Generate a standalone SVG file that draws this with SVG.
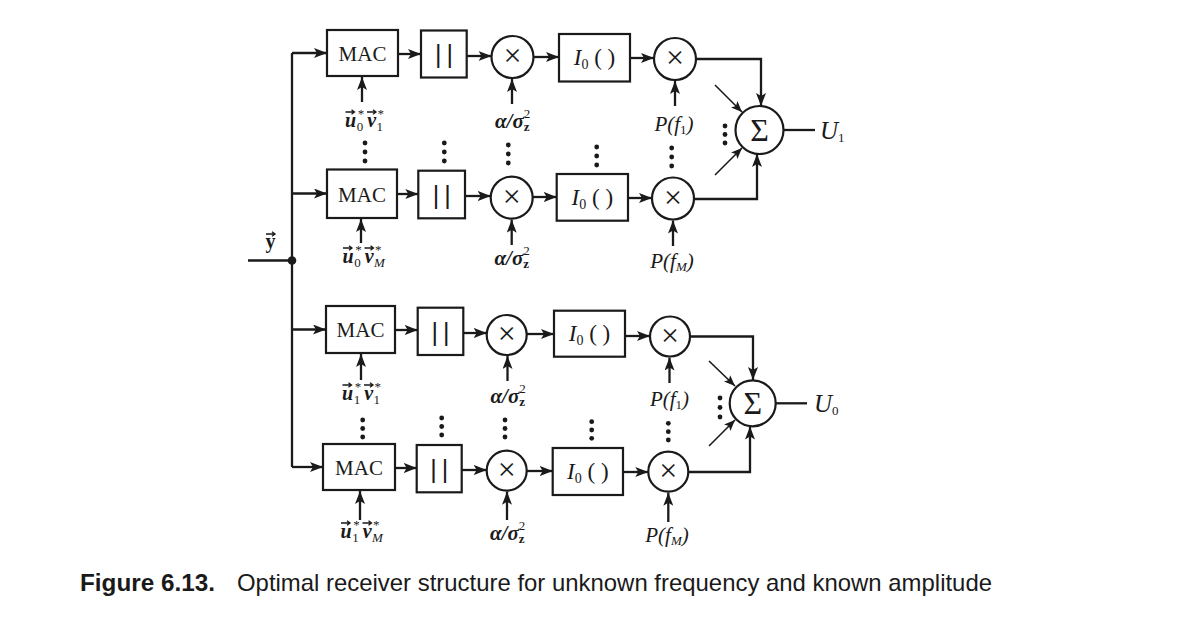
<svg xmlns="http://www.w3.org/2000/svg" width="1178" height="630" viewBox="0 0 1178 630">
<defs>
<style>
.box{fill:#fff;stroke:#1a1a1a;stroke-width:2.2}
.cir{fill:#fff;stroke:#1a1a1a;stroke-width:2.2}
.ln{fill:none;stroke:#1a1a1a;stroke-width:2.3}
.thin{fill:none;stroke:#1a1a1a;stroke-width:1.6}
.vec{fill:none;stroke:#1a1a1a;stroke-width:1.3}
.dot{fill:#1a1a1a}
text{fill:#1a1a1a;font-family:"Liberation Serif","Times New Roman",serif}
.mac{font-size:21px;text-anchor:middle}
.abs{font-size:25px;font-family:"Liberation Sans",Arial,sans-serif;letter-spacing:5px;text-anchor:middle}
.io{font-size:23px;text-anchor:middle}
.x{font-size:32px;text-anchor:middle}
.sig{font-size:32px;text-anchor:middle}
.bi{font-size:20px;font-style:italic;font-weight:bold}
.sm{font-size:13px;font-style:normal;font-weight:normal}
.smi{font-size:13px;font-style:italic;font-weight:normal}
.smb{font-size:13px;font-style:normal;font-weight:bold}
.al{font-size:21px;font-style:italic;font-weight:bold}
.p{font-size:21px;font-style:italic;text-anchor:middle}
.u{font-size:25px;font-style:italic}
.cap{font-family:"Liberation Sans",Arial,sans-serif;font-size:24px}
</style>
<marker id="ah" markerUnits="userSpaceOnUse" markerWidth="14" markerHeight="11" refX="13" refY="5" orient="auto">
<path d="M0,0 L13,5 L0,10 L3,5 z" fill="#1a1a1a"/>
</marker>
<marker id="ahs" markerUnits="userSpaceOnUse" markerWidth="12" markerHeight="10" refX="11" refY="4.5" orient="auto">
<path d="M0,0 L11,4.5 L0,9 L2.5,4.5 z" fill="#1a1a1a"/>
</marker>
<path id="va" d="M0,0 H8.5 M6,-2.2 L9,0 L6,2.2"/>
</defs>

<g id="connectors">
<path class="ln" d="M248,260.5 H292"/>
<path class="ln" d="M292,53 V467"/>
<circle class="dot" cx="292" cy="260.5" r="4.3"/>
<path class="ln" marker-end="url(#ah)" d="M292,53 H327"/>
<path class="ln" marker-end="url(#ah)" d="M292,193.5 H327"/>
<path class="ln" marker-end="url(#ah)" d="M292,329.5 H326"/>
<path class="ln" marker-end="url(#ah)" d="M292,467 H323"/>
<path class="ln" marker-end="url(#ah)" d="M398,54 H421"/>
<path class="ln" marker-end="url(#ah)" d="M466.7,56 H491.5"/>
<path class="ln" marker-end="url(#ah)" d="M533.5,57 H559"/>
<path class="ln" marker-end="url(#ah)" d="M630,58 H654"/>
<path class="ln" marker-end="url(#ah)" d="M696,59 H761 V106"/>
<path class="ln" marker-end="url(#ah)" d="M397,194 H418.3"/>
<path class="ln" marker-end="url(#ah)" d="M465,196 H490.7"/>
<path class="ln" marker-end="url(#ah)" d="M532.7,197 H556.7"/>
<path class="ln" marker-end="url(#ah)" d="M628,198 H652"/>
<path class="ln" marker-end="url(#ah)" d="M694,199 H757 V154"/>
<path class="ln" marker-end="url(#ah)" d="M395,330 H417.7"/>
<path class="ln" marker-end="url(#ah)" d="M463.3,333 H486.7"/>
<path class="ln" marker-end="url(#ah)" d="M526.7,334 H554"/>
<path class="ln" marker-end="url(#ah)" d="M625,336 H650"/>
<path class="ln" marker-end="url(#ah)" d="M690,336.5 H753 V380"/>
<path class="ln" marker-end="url(#ah)" d="M395,468 H416.7"/>
<path class="ln" marker-end="url(#ah)" d="M461.7,470 H486.7"/>
<path class="ln" marker-end="url(#ah)" d="M526.7,471 H552.7"/>
<path class="ln" marker-end="url(#ah)" d="M623,472 H648.3"/>
<path class="ln" marker-end="url(#ah)" d="M688.3,472 H750 V426.5"/>
<path class="ln" marker-end="url(#ah)" d="M362,102 V77"/>
<path class="ln" marker-end="url(#ah)" d="M512,104 V79"/>
<path class="ln" marker-end="url(#ah)" d="M675,106 V81"/>
<path class="ln" marker-end="url(#ah)" d="M361,243 V219"/>
<path class="ln" marker-end="url(#ah)" d="M511.7,245 V219.7"/>
<path class="ln" marker-end="url(#ah)" d="M673,246 V220.5"/>
<path class="ln" marker-end="url(#ah)" d="M361,380 V354"/>
<path class="ln" marker-end="url(#ah)" d="M507.5,381 V356"/>
<path class="ln" marker-end="url(#ah)" d="M669.5,383 V357.5"/>
<path class="ln" marker-end="url(#ah)" d="M360,520 V491"/>
<path class="ln" marker-end="url(#ah)" d="M507,520 V491.7"/>
<path class="ln" marker-end="url(#ah)" d="M668.3,522 V492.7"/>
<path class="thin" marker-end="url(#ahs)" d="M715,85 L742,112"/>
<path class="thin" marker-end="url(#ahs)" d="M715,175 L742,148"/>
<path class="thin" marker-end="url(#ahs)" d="M709,361 L735,386"/>
<path class="thin" marker-end="url(#ahs)" d="M709,446 L735,420"/>
<path class="ln" d="M783.5,130 H815"/>
<path class="ln" d="M775.7,403.3 H807"/>
</g>

<g id="mac1"><rect class="box" x="327" y="30" width="71" height="46"/><text class="mac" x="362.5" y="60.5">MAC</text></g>
<g id="abs1"><rect class="box" x="421" y="30.5" width="45.7" height="47"/><text class="abs" x="446.5" y="62.5">||</text></g>
<g id="mul1a"><circle class="cir" cx="512.5" cy="57" r="21"/><text class="x" x="512.5" y="66">×</text></g>
<g id="io1"><rect class="box" x="559" y="34" width="71" height="47.5"/><text class="io" x="594.5" y="65"><tspan font-style="italic">I</tspan><tspan dy="4" font-size="14">0</tspan><tspan dy="-4"> ( )</tspan></text></g>
<g id="mul1b"><circle class="cir" cx="675" cy="59" r="21"/><text class="x" x="675" y="68">×</text></g>

<g id="mac2"><rect class="box" x="327" y="169.5" width="70" height="48.5"/><text class="mac" x="362" y="201.5">MAC</text></g>
<g id="abs2"><rect class="box" x="418.3" y="170.7" width="46.7" height="47.6"/><text class="abs" x="444.2" y="203.5">||</text></g>
<g id="mul2a"><circle class="cir" cx="511.7" cy="197.7" r="21"/><text class="x" x="511.7" y="206.7">×</text></g>
<g id="io2"><rect class="box" x="556.7" y="174" width="71.3" height="46.7"/><text class="io" x="592.3" y="204.5"><tspan font-style="italic">I</tspan><tspan dy="4" font-size="14">0</tspan><tspan dy="-4"> ( )</tspan></text></g>
<g id="mul2b"><circle class="cir" cx="673" cy="198.5" r="21"/><text class="x" x="673" y="207.5">×</text></g>

<g id="mac3"><rect class="box" x="326" y="306" width="69" height="47"/><text class="mac" x="360.5" y="337">MAC</text></g>
<g id="abs3"><rect class="box" x="417.7" y="307.7" width="45.6" height="47.3"/><text class="abs" x="443" y="340.5">||</text></g>
<g id="mul3a"><circle class="cir" cx="506.7" cy="335" r="20"/><text class="x" x="506.7" y="344">×</text></g>
<g id="io3"><rect class="box" x="554" y="310.7" width="71" height="46"/><text class="io" x="589.5" y="341"><tspan font-style="italic">I</tspan><tspan dy="4" font-size="14">0</tspan><tspan dy="-4"> ( )</tspan></text></g>
<g id="mul3b"><circle class="cir" cx="670" cy="336.5" r="20"/><text class="x" x="670" y="345.5">×</text></g>

<g id="mac4"><rect class="box" x="323" y="444" width="72" height="46"/><text class="mac" x="359" y="474.5">MAC</text></g>
<g id="abs4"><rect class="box" x="416.7" y="445" width="45" height="47.3"/><text class="abs" x="441.8" y="477.5">||</text></g>
<g id="mul4a"><circle class="cir" cx="506.7" cy="470.7" r="20"/><text class="x" x="506.7" y="479.7">×</text></g>
<g id="io4"><rect class="box" x="552.7" y="448" width="70.3" height="47"/><text class="io" x="587.8" y="478.5"><tspan font-style="italic">I</tspan><tspan dy="4" font-size="14">0</tspan><tspan dy="-4"> ( )</tspan></text></g>
<g id="mul4b"><circle class="cir" cx="668.3" cy="471.7" r="20"/><text class="x" x="668.3" y="480.7">×</text></g>

<g id="sum1"><circle class="cir" cx="759.5" cy="130" r="24"/><text class="sig" x="759.5" y="141">Σ</text></g>
<g id="sum0"><circle class="cir" cx="752.7" cy="403.3" r="23"/><text class="sig" x="752.7" y="414.3">Σ</text></g>

<g id="out1"><text class="u" x="820" y="139">U<tspan class="sm" dy="3">1</tspan></text></g>
<g id="out0"><text class="u" x="814" y="412">U<tspan class="sm" dy="3">0</tspan></text></g>

<g id="input-y">
<text x="270.5" y="248" font-size="20" font-weight="bold" text-anchor="middle">y</text>
<use href="#va" class="vec" x="266" y="234"/>
</g>

<g id="lab-u0v1">
<text class="bi" x="345" y="127">u<tspan class="sm" dx="1.5" dy="-9">*</tspan><tspan class="sm" dx="-7.5" dy="13">0</tspan><tspan dx="4" dy="-4">v</tspan><tspan class="sm" dx="1.5" dy="-9">*</tspan><tspan class="sm" dx="-7.5" dy="13">1</tspan></text>
<use href="#va" class="vec" x="345.5" y="112"/><use href="#va" class="vec" x="367" y="112"/>
</g>
<g id="lab-u0vM">
<text class="bi" x="342.5" y="263">u<tspan class="sm" dx="1.5" dy="-9">*</tspan><tspan class="sm" dx="-7.5" dy="13">0</tspan><tspan dx="4" dy="-4">v</tspan><tspan class="sm" dx="1.5" dy="-9">*</tspan><tspan class="smi" dx="-7.5" dy="13">M</tspan></text>
<use href="#va" class="vec" x="343" y="248"/><use href="#va" class="vec" x="364.5" y="248"/>
</g>
<g id="lab-u1v1">
<text class="bi" x="342" y="400">u<tspan class="sm" dx="1.5" dy="-9">*</tspan><tspan class="sm" dx="-7.5" dy="13">1</tspan><tspan dx="4" dy="-4">v</tspan><tspan class="sm" dx="1.5" dy="-9">*</tspan><tspan class="sm" dx="-7.5" dy="13">1</tspan></text>
<use href="#va" class="vec" x="342.5" y="385"/><use href="#va" class="vec" x="364" y="385"/>
</g>
<g id="lab-u1vM">
<text class="bi" x="340.5" y="538">u<tspan class="sm" dx="1.5" dy="-9">*</tspan><tspan class="sm" dx="-7.5" dy="13">1</tspan><tspan dx="4" dy="-4">v</tspan><tspan class="sm" dx="1.5" dy="-9">*</tspan><tspan class="smi" dx="-7.5" dy="13">M</tspan></text>
<use href="#va" class="vec" x="341" y="523"/><use href="#va" class="vec" x="362.5" y="523"/>
</g>

<g id="lab-a1"><text class="al" x="495" y="128">α/σ<tspan class="sm" dy="-10">2</tspan><tspan class="smb" dx="-6.5" dy="13">z</tspan></text></g>
<g id="lab-a2"><text class="al" x="494.5" y="265">α/σ<tspan class="sm" dy="-10">2</tspan><tspan class="smb" dx="-6.5" dy="13">z</tspan></text></g>
<g id="lab-a3"><text class="al" x="490.5" y="403">α/σ<tspan class="sm" dy="-10">2</tspan><tspan class="smb" dx="-6.5" dy="13">z</tspan></text></g>
<g id="lab-a4"><text class="al" x="490" y="540">α/σ<tspan class="sm" dy="-10">2</tspan><tspan class="smb" dx="-6.5" dy="13">z</tspan></text></g>

<g id="lab-p1"><text class="p" x="674" y="131">P(f<tspan class="sm" dy="3">1</tspan><tspan dy="-3">)</tspan></text></g>
<g id="lab-p2"><text class="p" x="672" y="268">P(f<tspan class="smi" dy="3">M</tspan><tspan dy="-3">)</tspan></text></g>
<g id="lab-p3"><text class="p" x="669.5" y="406">P(f<tspan class="sm" dy="3">1</tspan><tspan dy="-3">)</tspan></text></g>
<g id="lab-p4"><text class="p" x="667" y="542">P(f<tspan class="smi" dy="3">M</tspan><tspan dy="-3">)</tspan></text></g>

<g id="dots">
<circle class="dot" cx="365" cy="143" r="2.4"/><circle class="dot" cx="365" cy="152" r="2.4"/><circle class="dot" cx="365" cy="161" r="2.4"/>
<circle class="dot" cx="444.3" cy="143" r="2.4"/><circle class="dot" cx="444.3" cy="152" r="2.4"/><circle class="dot" cx="444.3" cy="161" r="2.4"/>
<circle class="dot" cx="508.3" cy="145" r="2.4"/><circle class="dot" cx="508.3" cy="154" r="2.4"/><circle class="dot" cx="508.3" cy="163" r="2.4"/>
<circle class="dot" cx="596.7" cy="147" r="2.4"/><circle class="dot" cx="596.7" cy="156" r="2.4"/><circle class="dot" cx="596.7" cy="165" r="2.4"/>
<circle class="dot" cx="671.7" cy="148" r="2.4"/><circle class="dot" cx="671.7" cy="157" r="2.4"/><circle class="dot" cx="671.7" cy="166" r="2.4"/>
<circle class="dot" cx="725" cy="126" r="2.4"/><circle class="dot" cx="725" cy="134.5" r="2.4"/><circle class="dot" cx="725" cy="143" r="2.4"/>
<circle class="dot" cx="362.7" cy="420" r="2.4"/><circle class="dot" cx="362.7" cy="428.5" r="2.4"/><circle class="dot" cx="362.7" cy="437" r="2.4"/>
<circle class="dot" cx="441.7" cy="418" r="2.4"/><circle class="dot" cx="441.7" cy="426.5" r="2.4"/><circle class="dot" cx="441.7" cy="435" r="2.4"/>
<circle class="dot" cx="505" cy="420" r="2.4"/><circle class="dot" cx="505" cy="428.5" r="2.4"/><circle class="dot" cx="505" cy="437" r="2.4"/>
<circle class="dot" cx="591.7" cy="421.7" r="2.4"/><circle class="dot" cx="591.7" cy="430" r="2.4"/><circle class="dot" cx="591.7" cy="438.3" r="2.4"/>
<circle class="dot" cx="668.3" cy="423.3" r="2.4"/><circle class="dot" cx="668.3" cy="431.7" r="2.4"/><circle class="dot" cx="668.3" cy="440" r="2.4"/>
<circle class="dot" cx="720" cy="398" r="2.4"/><circle class="dot" cx="720" cy="407.5" r="2.4"/><circle class="dot" cx="720" cy="417" r="2.4"/>
</g>

<g id="caption">
<text class="cap" x="80" y="591" font-weight="bold" textLength="135" lengthAdjust="spacingAndGlyphs">Figure 6.13.</text>
<text class="cap" x="237" y="591" textLength="755" lengthAdjust="spacingAndGlyphs">Optimal receiver structure for unknown frequency and known amplitude</text>
</g>
</svg>
